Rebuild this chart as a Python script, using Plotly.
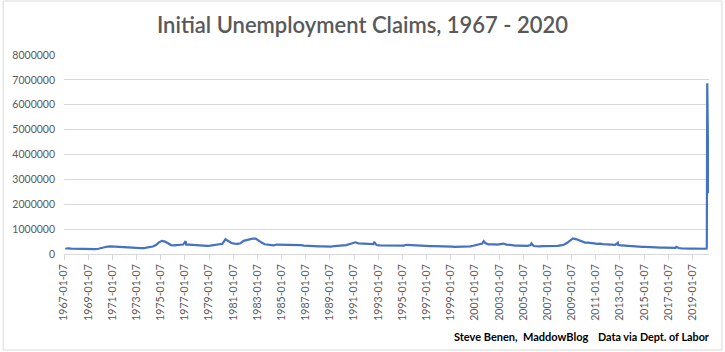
import pandas as pd
import plotly.graph_objects as go

# Quarterly readings (thousands of claims), 1967-2019
years = list(range(1967, 2020))
quarterly_claims = [
    [210, 230, 220, 215], [200, 195, 190, 185], [190, 195, 200, 210], [250, 290, 300, 310],
    [300, 290, 285, 280], [270, 280, 260, 245], [230, 235, 240, 260], [290, 300, 360, 470],
    [530, 500, 430, 360], [350, 370, 390, 380], [380, 380, 370, 360], [350, 340, 340, 330],
    [340, 350, 380, 400], [410, 590, 530, 440], [420, 410, 430, 530], [560, 590, 620, 620],
    [520, 460, 390, 370], [350, 350, 380, 380], [390, 390, 390, 380], [370, 370, 360, 340],
    [330, 320, 300, 300], [310, 310, 300, 290], [300, 320, 320, 350], [350, 360, 390, 450],
    [470, 430, 420, 430], [420, 410, 400, 360], [350, 350, 330, 330], [340, 350, 330, 330],
    [340, 370, 360, 360], [360, 350, 330, 340], [320, 320, 320, 320], [320, 330, 310, 300],
    [300, 290, 290, 280], [290, 300, 310, 330], [360, 410, 420, 440], [390, 400, 390, 380],
    [400, 420, 380, 360], [350, 340, 340, 340], [320, 330, 360, 320], [300, 310, 320, 320],
    [320, 310, 320, 330], [350, 370, 440, 520], [630, 600, 560, 490], [460, 460, 460, 430],
    [410, 420, 400, 390], [370, 380, 370, 360], [350, 340, 320, 330], [320, 310, 300, 290],
    [290, 280, 270, 270], [270, 260, 260, 250], [245, 240, 250, 240], [230, 220, 210, 220],
    [220, 220, 215, 220],
]
quarter_days = ["02-15", "05-15", "08-15", "11-15"]

# Visible one-week spikes
event_dates = ["1977-01-29", "1992-09-05", "2001-09-29", "2005-09-10", "2012-11-03", "2017-09-09"]
event_claims = [520, 490, 517, 423, 450, 290]

# Weekly 2020 readings
weekly_2020_dates = ["2020-01-11", "2020-02-15", "2020-03-07", "2020-03-14", "2020-03-21",
                     "2020-03-28", "2020-04-04", "2020-04-11", "2020-04-18", "2020-04-25",
                     "2020-05-02", "2020-05-09", "2020-05-16"]
weekly_2020_claims = [215, 215, 211, 282, 3307, 6867, 6615, 5237, 4442, 3867, 3176, 2687, 2438]

tick_years = list(range(1967, 2020, 2))
tick_labels = [f"{y}-01-07" for y in tick_years]
y_ticks = [0, 1000000, 2000000, 3000000, 4000000, 5000000, 6000000, 7000000, 8000000]

rows = []
for y, qs in zip(years, quarterly_claims):
    for d, v in zip(quarter_days, qs):
        rows.append((f"{y}-{d}", v))
rows += list(zip(event_dates, event_claims))
rows += list(zip(weekly_2020_dates, weekly_2020_claims))
df = pd.DataFrame(rows, columns=["date", "claims"])
df["date"] = pd.to_datetime(df["date"])
df = df.sort_values("date")
df["claims"] = df["claims"] * 1000

fig = go.Figure()
fig.add_trace(go.Scatter(x=df["date"], y=df["claims"], mode="lines",
                         line=dict(color="#4472C4", width=2.2), hoverinfo="skip"))

W, H = 725, 352
L, R, T, B = 62, 16, 55, 98
pw, ph = W - L - R, H - T - B

fig.update_layout(
    width=W, height=H, margin=dict(l=L, r=R, t=T, b=B),
    paper_bgcolor="white", plot_bgcolor="white", showlegend=False,
    font=dict(family="Lato, Open Sans, sans-serif", color="#595959"),
    title=dict(text="Initial Unemployment Claims, 1967 - 2020", x=0.5, xref="container",
               xanchor="center", y=1 - 25 / H, yanchor="middle",
               font=dict(size=22, color="#595959", family="Lato, Open Sans, sans-serif",
                         weight=600)),
    xaxis=dict(type="date", range=["1967-01-07", "2020-05-20"],
               tickvals=[f"{y}-01-07" for y in tick_years], ticktext=tick_labels,
               tickangle=-90, tickfont=dict(size=10.5, color="#595959"),
               showgrid=False, showline=True, linecolor="#d9d9d9", linewidth=1,
               ticks="outside", ticklen=5, tickcolor="#d9d9d9", zeroline=False),
    yaxis=dict(range=[0, 8000000], tickvals=y_ticks, ticktext=[str(v) for v in y_ticks],
               tickfont=dict(size=10.5, color="#595959"), showgrid=True,
               gridcolor="#d9d9d9", gridwidth=1, zeroline=False, showline=False,
               ticks="", ticklabelstandoff=8),
)

fig.add_annotation(text="<b>Steve Benen,  MaddowBlog</b>", xref="paper", yref="paper",
                   x=(451 - L) / pw, y=(H - B - 336) / ph, xanchor="left", yanchor="middle",
                   showarrow=False, font=dict(size=11, color="#000000"))
fig.add_annotation(text="<b>Data via Dept. of Labor</b>", xref="paper", yref="paper",
                   x=(711 - L) / pw, y=(H - B - 336) / ph, xanchor="right", yanchor="middle",
                   showarrow=False, font=dict(size=10.8, color="#000000"))

fig.add_shape(type="rect", xref="paper", yref="paper",
              x0=(1 - L) / pw, x1=(722 - L) / pw, y0=(H - B - 350) / ph, y1=(H - B - 1) / ph,
              line=dict(color="#d9d9d9", width=1), fillcolor="rgba(0,0,0,0)", layer="below")

fig.write_html("out.html")
